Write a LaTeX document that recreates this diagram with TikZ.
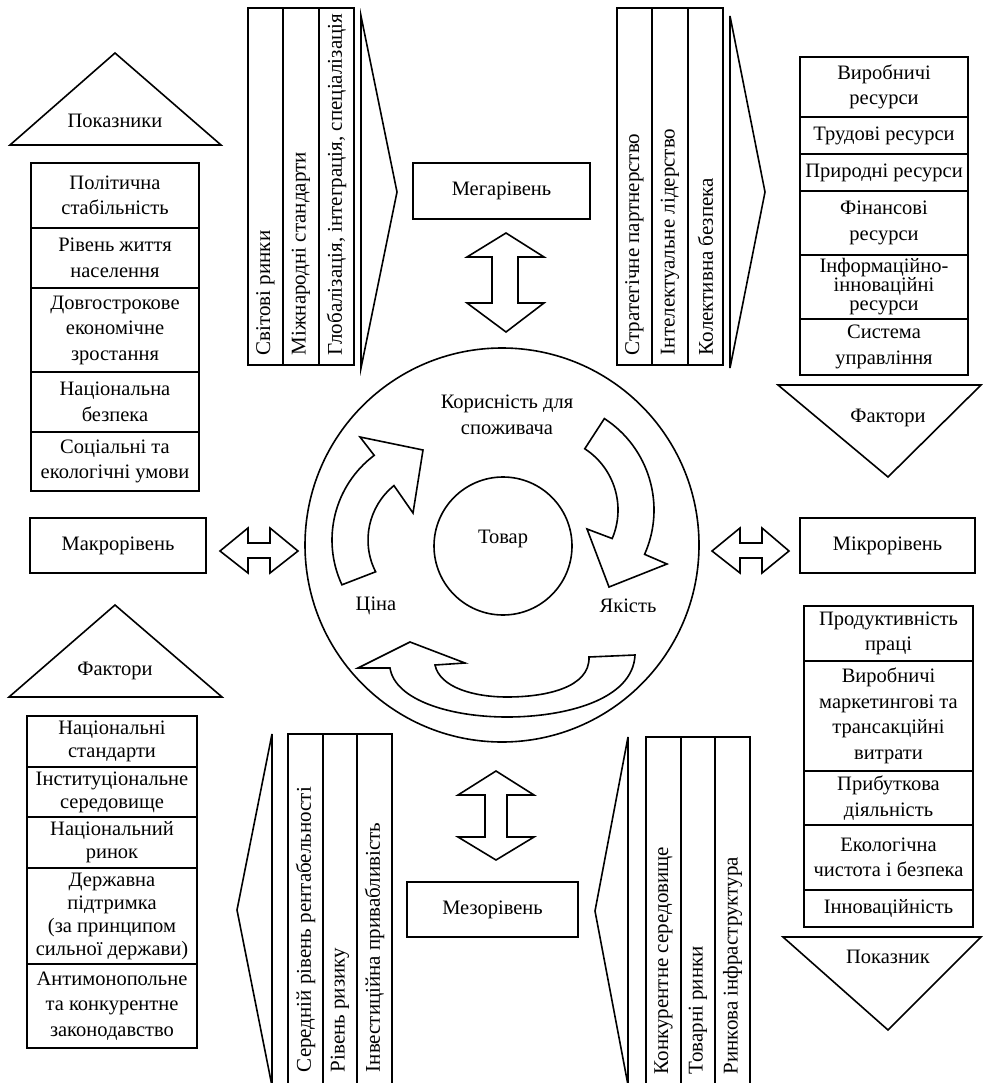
\documentclass[tikz,border=0pt]{standalone}
\usepackage{fontspec}
\setmainfont{Liberation Serif}
\usetikzlibrary{calc}
\newcommand\Tbox[7][]{\node[box,#1,minimum width={(#5-#3)*1pt},minimum height={(#6-#4)*1pt}] (#2) at ({(#3+#5)/2},{(#4+#6)/2}) {#7};}
\begin{document}
\begin{tikzpicture}[x=1pt,y=-1pt,line width=1.6pt,line join=miter,
 box/.style={draw,align=center,inner sep=0pt,font=\fontsize{20.5}{25.5}\selectfont},
 lbl/.style={align=center,inner sep=0pt,font=\fontsize{20.5}{25.5}\selectfont},
 vtext/.style={rotate=90,anchor=west,inner sep=0pt,font=\fontsize{21}{24}\selectfont},
 shp/.style={draw}]
\fill[white] (0,0) rectangle (982,1083);
\useasboundingbox (0,0) rectangle (982,1083);

% ---- triangles
\draw[shp] (115,53) -- (221,145) -- (10,145) -- cycle;
\node[lbl] (tpok) at (115,121) {Показники};
\draw[shp] (115,605) -- (222,697) -- (9,697) -- cycle;
\node[lbl] (tfak1) at (115,671) {Фактори};
\draw[shp] (778,385) -- (981,385) -- (888,477) -- cycle;
\node[lbl] (tfak2) at (888,418) {Фактори};
\draw[shp] (783,937) -- (981,937) -- (888,1030) -- cycle;
\node[lbl] (tpokn) at (888,957) {Показник};

% ---- top-left stack
\Tbox{pol}{31}{163}{199}{228}{Політична\\стабільність}
\Tbox{riv}{31}{228}{199}{288}{Рівень життя\\населення}
\Tbox{dov}{31}{288}{199}{372}{Довгострокове\\економічне\\зростання}
\Tbox{nac}{31}{372}{199}{432}{Національна\\безпека}
\Tbox{soc}{31}{432}{199}{491}{Соціальні та\\екологічні умови}

% ---- top-right stack
\Tbox{vyr}{800}{57}{968}{117}{Виробничі\\ресурси}
\Tbox{trud}{800}{117}{968}{154}{Трудові ресурси}
\Tbox{pryr}{800}{154}{968}{191}{Природні ресурси}
\Tbox{fin}{800}{191}{968}{255}{Фінансові\\ресурси}
\Tbox[font=\fontsize{20.5}{19}\selectfont]{inf}{800}{255}{968}{319}{Інформаційно-\\інноваційні\\ресурси}
\Tbox{sys}{800}{319}{968}{375}{Система\\управління}

% ---- bottom-right stack
\Tbox{prod}{804}{606}{973}{661}{Продуктивність\\праці}
\Tbox{vytr}{804}{661}{973}{771}{Виробничі\\маркетингові та\\трансакційні\\витрати}
\Tbox{prib}{804}{771}{973}{825}{Прибуткова\\діяльність}
\Tbox{eko}{804}{825}{973}{890}{Екологічна\\чистота і безпека}
\Tbox{inn}{804}{890}{973}{927}{Інноваційність}

% ---- bottom-left stack
\Tbox[font=\fontsize{20.5}{23}\selectfont]{nst}{27}{716}{197}{767}{Національні\\стандарти}
\Tbox[font=\fontsize{20.5}{23}\selectfont]{ins}{27}{767}{197}{817}{Інституціональне\\середовище}
\Tbox[font=\fontsize{20.5}{23}\selectfont]{nry}{27}{817}{197}{868}{Національний\\ринок}
\Tbox[font=\fontsize{20.5}{23}\selectfont]{der}{27}{868}{197}{964}{Державна\\підтримка\\(за принципом\\сильної держави)}
\Tbox{ant}{27}{964}{197}{1048}{Антимонопольне\\та конкурентне\\законодавство}

% ---- level boxes
\Tbox{mega}{413}{163}{590}{219}{Мегарівень}
\Tbox{mezo}{407}{882}{578}{937}{Мезорівень}
\Tbox{makro}{30}{518}{206}{573}{Макрорівень}
\Tbox{mikro}{800}{518}{975}{573}{Мікрорівень}

% ---- vertical column stacks
\Tbox{ca1}{248}{8}{283}{365}{}
\Tbox{ca2}{283}{8}{319}{365}{}
\Tbox{ca3}{319}{8}{354}{365}{}
\node[vtext] (ta1) at (265.5,356) {Світові ринки};
\node[vtext] (ta2) at (301,356) {Міжнародні стандарти};
\node[vtext] (ta3) at (336.5,356) {Глобалізація, інтеграція, спеціалізація};
\draw[shp] (361,16) -- (397,192) -- (361,368) -- cycle;

\Tbox{cb1}{617}{8}{652}{365}{}
\Tbox{cb2}{652}{8}{688}{365}{}
\Tbox{cb3}{688}{8}{723}{365}{}
\node[vtext] (tb1) at (634.5,356) {Стратегічне партнерство};
\node[vtext] (tb2) at (670,356) {Інтелектуальне лідерство};
\node[vtext] (tb3) at (705.5,356) {Колективна безпека};
\draw[shp] (730,16) -- (765,192) -- (730,368) -- cycle;

\Tbox{cc1}{288}{734}{323}{1095}{}
\Tbox{cc2}{323}{734}{357}{1095}{}
\Tbox{cc3}{357}{734}{392}{1095}{}
\node[vtext] (tc1) at (305.5,1073) {Середній рівень рентабельності};
\node[vtext] (tc2) at (340,1073) {Рівень ризику};
\node[vtext] (tc3) at (374.5,1073) {Інвестиційна привабливість};
\draw[shp] (272,734) -- (237,910) -- (272,1086) -- cycle;

\Tbox{cd1}{646}{737}{681}{1095}{}
\Tbox{cd2}{681}{737}{715}{1095}{}
\Tbox{cd3}{715}{737}{750}{1095}{}
\node[vtext] (td1) at (663.5,1075) {Конкурентне середовище};
\node[vtext] (td2) at (698,1075) {Товарні ринки};
\node[vtext] (td3) at (732.5,1075) {Ринкова інфраструктура};
\draw[shp] (628,737) -- (595,911) -- (628,1085) -- cycle;

% ---- double block arrows
\draw[shp] (506,233) -- (467,257) -- (492,257) -- (492,303) -- (467,303) -- (506,332) -- (544,303) -- (518,303) -- (518,257) -- (544,257) -- cycle;
\draw[shp] (496,771) -- (458,795) -- (485,795) -- (485,837) -- (458,837) -- (496,860) -- (534,837) -- (507,837) -- (507,795) -- (534,795) -- cycle;
\draw[shp] (220,551) -- (248,528) -- (248,543) -- (270,543) -- (270,528) -- (298,551) -- (270,573) -- (270,558) -- (248,558) -- (248,573) -- cycle;
\draw[shp] (712,551) -- (740,528) -- (740,543) -- (762,543) -- (762,528) -- (789,551) -- (762,573) -- (762,558) -- (740,558) -- (740,573) -- cycle;

% ---- circles
\node[draw,circle,minimum size=394pt,inner sep=0pt] (outer) at (502,545) {};
\node[draw,circle,minimum size=138pt,inner sep=0pt] (inner) at (503,546) {};
\node[lbl] (tovar) at (503,539) {Товар};
\node[lbl] (kor) at (507,415) {Корисність для\\споживача};
\node[lbl] (cina) at (376,606) {Ціна};
\node[lbl] (yak) at (628,606) {Якість};

% ---- curved arrows
\coordinate (c1) at (438,540);
\draw[shp] ($(c1)+(155:106)$) arc[start angle=155,end angle=233,radius=106] -- (360,437) -- (423,450) -- (413,513) -- ($(c1)+(231:70)$) arc[start angle=231,end angle=153,radius=70] -- cycle;
\coordinate (c2) at (545,510);
\draw[shp] ($(c2)+(-57:109)$) arc[start angle=-57,end angle=24,radius=109] -- (667,564) -- (609,587) -- (587,529) -- ($(c2)+(23:73)$) arc[start angle=23,end angle=-57,radius=73] -- cycle;
\draw[shp] (635,655) .. controls (633,700) and (565,717) .. (507,717) .. controls (450,717) and (395,700) .. (390,668) -- (358,668) -- (410,642) -- (465,663) -- (435,665) .. controls (440,688) and (475,697) .. (507,697) .. controls (545,697) and (590,688) .. (589,657) -- cycle;
\end{tikzpicture}
\end{document}
